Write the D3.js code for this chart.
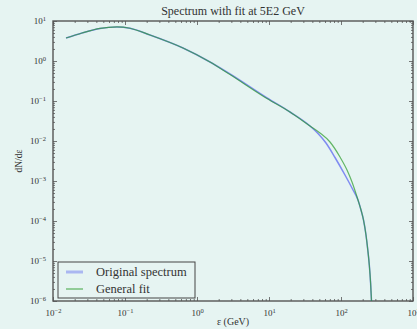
<!DOCTYPE html>
<html>
<head>
<meta charset="utf-8">
<script src="https://cdn.jsdelivr.net/npm/d3@7"></script>
<style>
  body { margin: 0; background: #e6f4f2; }
  svg { display: block; }
  text { font-family: "Liberation Serif", "DejaVu Serif", serif; fill: #333; }
</style>
</head>
<body>
<svg id="chart" width="417" height="329"></svg>
<script>
// original spectrum, energy in GeV and dN/de
var origE = [0.01517, 0.02529, 0.04497, 0.07743, 0.1173, 0.2224, 0.639, 1.516, 2.873, 9.38, 19.57, 37.1, 47.92, 61.9, 82.54, 113.6, 142.2, 172.2, 189.6, 205.4, 222.4, 235.6, 247.2, 257.7, 265.2];
var origY = [3.758, 5.012, 6.494, 7.079, 6.569, 4.467, 2.113, 0.9441, 0.4732, 0.1189, 0.05309, 0.02371, 0.0154, 0.008913, 0.003869, 0.001413, 0.000668, 0.000335, 0.0001884, 0.0001059, 0.0000447, 0.00001884, 0.000007943, 0.000002818, 0.000001];

// general fit
var fitE = [0.01517, 0.02529, 0.04497, 0.07743, 0.1173, 0.2224, 0.639, 1.516, 2.873, 9.38, 19.57, 37.1, 51.09, 70.35, 96.85, 121.2, 142.2, 172.2, 189.6, 205.4, 222.4, 235.6, 247.2, 257.7, 265.2];
var fitY = [3.758, 5.012, 6.55, 7.15, 6.6, 4.467, 2.113, 0.9441, 0.4571, 0.1148, 0.05309, 0.02371, 0.01585, 0.009441, 0.003981, 0.001884, 0.000944, 0.000335, 0.0001884, 0.0001059, 0.0000447, 0.00001884, 0.000007943, 0.000002818, 0.000001];

var xTicks = [1e-2, 1e-1, 1e0, 1e1, 1e2, 1e3];
var yTicks = [1e-6, 1e-5, 1e-4, 1e-3, 1e-2, 1e-1, 1e0, 1e1];
var seriesNames = ["Original spectrum", "General fit"];
var seriesColors = ["#3a45f0", "#2a9a2a"];

var svg = d3.select("#chart");
var mLeft = 53, mRight = 413, mTop = 21, mBottom = 301;

var x = d3.scaleLog().domain([1e-2, 1e3]).range([mLeft, mRight]);
var y = d3.scaleLog().domain([1e-6, 1e1]).range([mBottom, mTop]);

// minor tick values for a log axis
function minors(lo, hi) {
    var out = [];
    for (var e = lo; e < hi; e++) {
        for (var m = 2; m < 10; m++) out.push(m * Math.pow(10, e));
    }
    return out;
}

function sup(sel) {
    sel.each(function (d) {
        var t = d3.select(this);
        var p = Math.round(Math.log10(d));
        t.text(null);
        t.append("tspan").text("10");
        t.append("tspan").attr("dy", "-0.5em").attr("font-size", "6.5px")
            .text(String(p).replace("-", "\u2212"));
    });
}

function styleAxis(g) {
    g.select(".domain").remove();
    g.selectAll("line").attr("stroke", "#555").attr("stroke-width", 0.8);
    g.selectAll("text").attr("font-size", "9px").attr("fill", "#333");
}

// major axes (ticks point inward)
var gx = svg.append("g").attr("transform", "translate(0," + mBottom + ")")
    .call(d3.axisBottom(x).tickValues(xTicks).tickSize(-4).tickPadding(9));
styleAxis(gx);
gx.selectAll("text").call(sup);

var gy = svg.append("g").attr("transform", "translate(" + mLeft + ",0)")
    .call(d3.axisLeft(y).tickValues(yTicks).tickSize(-4).tickPadding(7));
styleAxis(gy);
gy.selectAll("text").call(sup);

var gxt = svg.append("g").attr("transform", "translate(0," + mTop + ")")
    .call(d3.axisTop(x).tickValues(xTicks).tickSize(-4).tickFormat(""));
styleAxis(gxt);
var gyr = svg.append("g").attr("transform", "translate(" + mRight + ",0)")
    .call(d3.axisRight(y).tickValues(yTicks).tickSize(-4).tickFormat(""));
styleAxis(gyr);

// minor ticks
[["axisBottom", mBottom], ["axisTop", mTop]].forEach(function (a) {
    var g = svg.append("g").attr("transform", "translate(0," + a[1] + ")")
        .call(d3[a[0]](x).tickValues(minors(-2, 3)).tickSize(-2).tickFormat(""));
    styleAxis(g);
});
[["axisLeft", mLeft], ["axisRight", mRight]].forEach(function (a) {
    var g = svg.append("g").attr("transform", "translate(" + a[1] + ",0)")
        .call(d3[a[0]](y).tickValues(minors(-6, 1)).tickSize(-2).tickFormat(""));
    styleAxis(g);
});

// frame
svg.append("rect").attr("x", mLeft).attr("y", mTop)
    .attr("width", mRight - mLeft).attr("height", mBottom - mTop)
    .attr("fill", "none").attr("stroke", "#555").attr("stroke-width", 1.4);

// curves
var line = d3.line()
    .x(function (d) { return x(d[0]); })
    .y(function (d) { return y(d[1]); })
    .curve(d3.curveMonotoneX);

var plot = svg.append("g");
plot.append("path").datum(d3.zip(origE, origY))
    .attr("d", line).attr("fill", "none")
    .attr("stroke", seriesColors[0]).attr("stroke-opacity", 0.6).attr("stroke-width", 1.5);
plot.append("path").datum(d3.zip(fitE, fitY))
    .attr("d", line).attr("fill", "none")
    .attr("stroke", seriesColors[1]).attr("stroke-opacity", 0.7).attr("stroke-width", 1.2);

// title and labels
svg.append("text").attr("x", (mLeft + mRight) / 2).attr("y", 15)
    .attr("text-anchor", "middle").attr("font-size", "12px")
    .text("Spectrum with fit at 5E2 GeV");
svg.append("text").attr("x", (mLeft + mRight) / 2).attr("y", 325)
    .attr("text-anchor", "middle").attr("font-size", "10px")
    .text("\u03b5 (GeV)");
svg.append("text").attr("transform", "translate(22," + ((mTop + mBottom) / 2) + ") rotate(-90)")
    .attr("text-anchor", "middle").attr("font-size", "9.5px")
    .text("dN/d\u03b5");

// legend
var leg = svg.append("g");
leg.append("rect").attr("x", 58).attr("y", 262).attr("width", 137).attr("height", 36)
    .attr("fill", "#e6f4f2").attr("stroke", "#444").attr("stroke-width", 1);
seriesNames.forEach(function (name, i) {
    var ly = 272 + i * 17;
    leg.append("line").attr("x1", 66).attr("x2", 83).attr("y1", ly).attr("y2", ly)
        .attr("stroke", seriesColors[i]).attr("stroke-opacity", i === 0 ? 0.35 : 0.6)
        .attr("stroke-width", i === 0 ? 3 : 1.5);
    leg.append("text").attr("x", 96).attr("y", ly + 4).attr("font-size", "12.5px").text(name);
});
</script>
</body>
</html>
